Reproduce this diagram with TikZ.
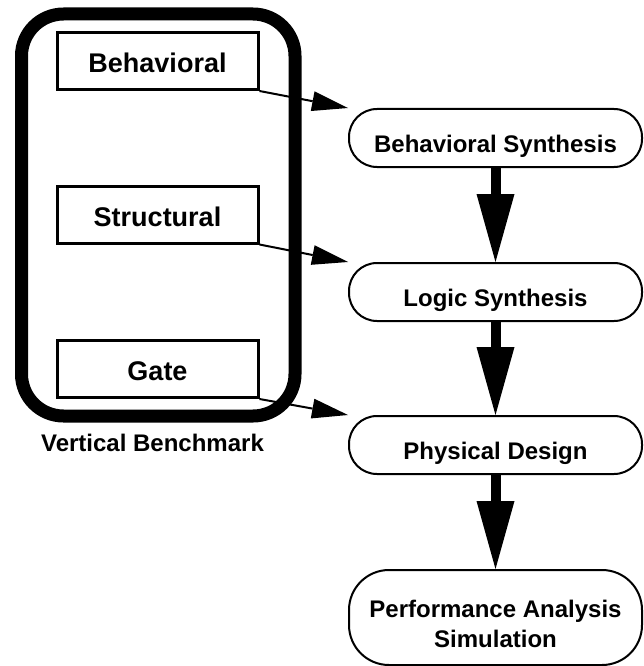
\documentclass[tikz,border=0pt]{standalone}
\usepackage{fontspec}
\setmainfont{Liberation Sans}
\usetikzlibrary{arrows.meta}

\begin{document}
\begin{tikzpicture}[x=1pt, y=-1pt,
    livello/.style={draw, line width=3pt, minimum width=201pt, minimum height=57pt,
        inner sep=0pt, text height=23pt, text depth=0pt,
        font=\fontsize{27}{32}\selectfont\bfseries},
    fase/.style={draw, line width=2pt, rounded corners=28pt, minimum width=293pt,
        minimum height=58pt, inner sep=0pt, text height=28pt, text depth=0pt,
        align=center, font=\fontsize{24}{30}\selectfont\bfseries},
    sottile/.style={line width=2pt, -{Triangle[width=20pt, length=36pt, line width=0pt]}},
    grosso/.style={line width=10pt, -{Triangle[width=38pt, length=68pt, line width=0pt]}}]
    % PARAMETRI
    \def\xl{157.5} % colonna sinistra
    \def\xr{495.5} % colonna destra

    \useasboundingbox (0,0) rectangle (643,666);

    % 1. CORNICE (Vertical Benchmark)
    \node[draw, line width=13pt, rounded corners=42pt, minimum width=273.5pt,
        minimum height=402pt] (bench) at (158.25,215) {};
    \node[anchor=base, font=\fontsize{24}{30}\selectfont\bfseries] (benchlabel)
        at (152.5,451) {Vertical Benchmark};

    % 2. LIVELLI
    \node[livello] (behav) at (\xl,61) {Behavioral};
    \node[livello] (struct) at (\xl,214.5) {Structural};
    \node[livello] (gate) at (\xl,369) {Gate};

    % 3. FLUSSO
    \node[fase] (bsyn) at (\xr,138) {Behavioral Synthesis};
    \node[fase] (lsyn) at (\xr,292) {Logic Synthesis};
    \node[fase] (phys) at (\xr,445) {Physical Design};
    \node[fase, rounded corners=40pt, minimum height=95pt, text height=59pt] (perf)
        at (\xr,617.5) {Performance Analysis\\Simulation};

    % 4. FRECCE
    \draw[sottile] (behav.south east) -- (bsyn.north west);
    \draw[sottile] (struct.south east) -- (lsyn.north west);
    \draw[sottile] (gate.south east) -- (phys.north west);

    \draw[grosso] (bsyn) -- (lsyn);
    \draw[grosso] (lsyn) -- (phys);
    \draw[grosso] (phys) -- (perf);

\end{tikzpicture}
\end{document}
